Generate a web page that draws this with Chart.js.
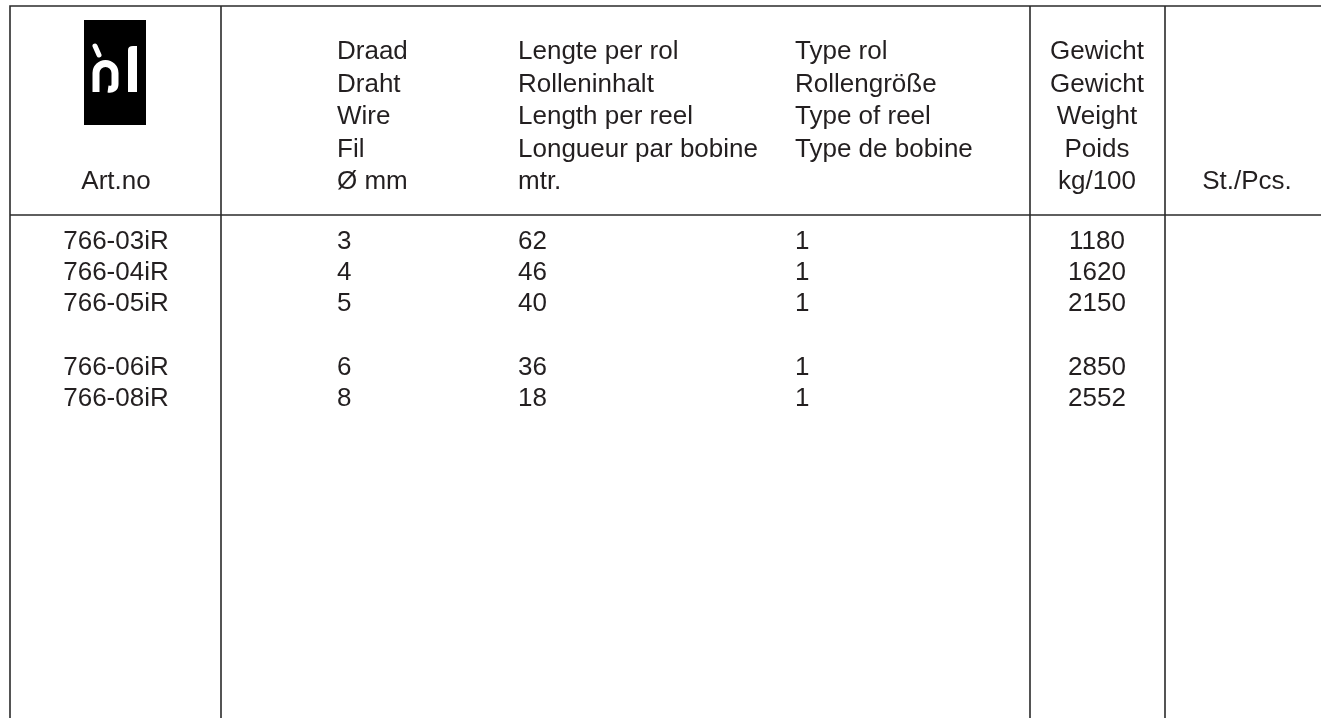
<!DOCTYPE html>
<html>
<head>
<meta charset="utf-8">
<script src="https://cdn.jsdelivr.net/npm/chart.js@4.4.1/dist/chart.umd.min.js"></script>
<style>
  html, body { margin: 0; padding: 0; background: #fff; }
  #wrap { width: 1321px; height: 718px; }
</style>
</head>
<body>
<div id="wrap"><canvas id="tabel"></canvas></div>
<script>
// gegevens uit de tabel
const artNo = ['766-03iR', '766-04iR', '766-05iR', '766-06iR', '766-08iR']
const draadMm = [3, 4, 5, 6, 8]
const lengteMtr = [62, 46, 40, 36, 18]
const typeRol = [1, 1, 1, 1, 1]
const gewicht = [1180, 1620, 2150, 2850, 2552]
const groep = [0, 0, 0, 1, 1]   // lege regel tussen de groepen

const kopDraad = ['Draad', 'Draht', 'Wire', 'Fil', 'Ø mm']
const kopLengte = ['Lengte per rol', 'Rolleninhalt', 'Length per reel', 'Longueur par bobine', 'mtr.']
const kopType = ['Type rol', 'Rollengröße', 'Type of reel', 'Type de bobine']
const kopGewicht = ['Gewicht', 'Gewicht', 'Weight', 'Poids', 'kg/100']
const kopArt = 'Art.no'
const kopStuks = 'St./Pcs.'

// opmaak
const W = 1321, H = 718
const lijnX = [10, 221, 1030, 1165]
const lijnY = [6, 215]
const kol = { art: 116, draad: 337, lengte: 518, type: 795, gewicht: 1097, stuks: 1247 }
const kopY0 = 52, kopStap = 32.5, kopOnder = 182
const rijY0 = 242, rijStap = 31, groepStap = 64
const font = '26px "Liberation Sans", Arial, sans-serif'
const tekstKleur = '#231f20'

function rijY(i) {
    return rijY0 + (i - groep[i]) * rijStap + groep[i] * groepStap
}

function kolom(key, waarden, align) {
    return {
        data: waarden.map((v, i) => ({ x: kol[key], y: rijY(i) })),
        teksten: waarden.map(String),
        align: align,
        pointRadius: 0,
        pointHoverRadius: 0
    }
}

const tabelPlugin = {
    id: 'tabel',
    beforeDatasetsDraw(chart) {
        const c = chart.ctx
        const sx = chart.scales.x, sy = chart.scales.y
        const px = v => sx.getPixelForValue(v)
        const py = v => sy.getPixelForValue(v)

        // lijnen
        c.save()
        c.strokeStyle = '#2b2b2b'
        c.lineWidth = 1.6
        c.beginPath()
        lijnY.forEach(y => { c.moveTo(px(lijnX[0]) - 0.8, py(y)); c.lineTo(px(W), py(y)) })
        lijnX.forEach(x => { c.moveTo(px(x), py(lijnY[0])); c.lineTo(px(x), py(H)) })
        c.stroke()

        // logo
        c.fillStyle = '#000'
        c.fillRect(px(84), py(20), 62, 105)
        c.strokeStyle = '#fff'
        c.fillStyle = '#fff'
        c.lineCap = 'round'
        c.lineWidth = 5
        c.beginPath()
        c.moveTo(px(95), py(46)); c.lineTo(px(99), py(55))
        c.stroke()
        c.lineCap = 'butt'
        c.lineWidth = 7
        c.beginPath()
        c.moveTo(px(96), py(92))
        c.lineTo(px(96), py(73))
        c.arc(px(105.5), py(73), 9.5, Math.PI, 0)
        c.lineTo(px(115), py(84))
        c.quadraticCurveTo(px(115), py(90), px(108), py(89))
        c.stroke()
        c.beginPath()
        c.moveTo(px(128), py(92))
        c.lineTo(px(128), py(50))
        c.quadraticCurveTo(px(128), py(46), px(133), py(46))
        c.lineTo(px(137), py(46))
        c.lineTo(px(137), py(92))
        c.closePath()
        c.fill()

        // koppen
        c.fillStyle = tekstKleur
        c.font = font
        c.textBaseline = 'middle'
        const kop = (regels, key, align) => {
            c.textAlign = align
            regels.forEach((t, i) => c.fillText(t, px(kol[key]), py(kopY0 + i * kopStap)))
        }
        kop(kopDraad, 'draad', 'left')
        kop(kopLengte, 'lengte', 'left')
        kop(kopType, 'type', 'left')
        kop(kopGewicht, 'gewicht', 'center')
        c.textAlign = 'center'
        c.fillText(kopArt, px(kol.art), py(kopOnder))
        c.fillText(kopStuks, px(kol.stuks), py(kopOnder))

        // cellen via de punten van de datasets
        chart.data.datasets.forEach((ds, d) => {
            c.textAlign = ds.align
            chart.getDatasetMeta(d).data.forEach((pt, i) => {
                c.fillText(ds.teksten[i], pt.x, pt.y)
            })
        })
        c.restore()
    }
}

new Chart(document.getElementById('tabel'), {
    type: 'scatter',
    data: {
        datasets: [
            kolom('art', artNo, 'center'),
            kolom('draad', draadMm, 'left'),
            kolom('lengte', lengteMtr, 'left'),
            kolom('type', typeRol, 'left'),
            kolom('gewicht', gewicht, 'center')
        ]
    },
    plugins: [tabelPlugin],
    options: {
        responsive: true,
        maintainAspectRatio: false,
        animation: false,
        layout: { padding: 0 },
        scales: {
            x: { type: 'linear', min: 0, max: W, display: false },
            y: { type: 'linear', min: 0, max: H, reverse: true, display: false }
        },
        plugins: {
            legend: { display: false },
            tooltip: { enabled: false }
        }
    }
})
</script>
</body>
</html>
